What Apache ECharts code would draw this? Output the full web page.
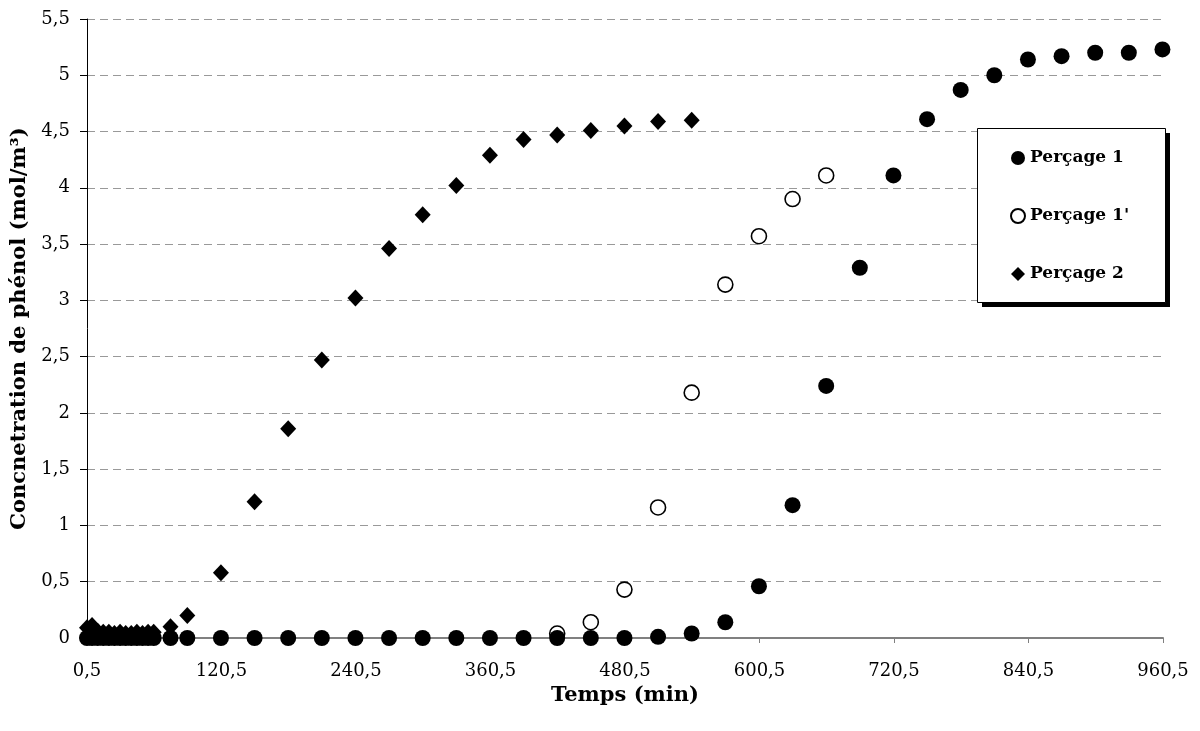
<!DOCTYPE html>
<html>
<head>
<meta charset="utf-8">
<script src="https://cdn.jsdelivr.net/npm/echarts@6/dist/echarts.min.js"></script>
<style>html,body{margin:0;padding:0;background:#fff}#c{width:1200px;height:731px}</style>
</head>
<body>
<div id="c"></div>
<script>
// Data (time in min, concentration in mol/m3)
const earlyTimes = [0.5, 5, 10, 15, 20, 25, 30, 35, 40, 45, 50, 55, 60, 75, 90];
const p1Times = earlyTimes.concat([120, 150, 180, 210, 240, 270, 300, 330, 360, 390, 420, 450, 480, 510, 540, 570, 600, 630, 660, 690, 720, 750, 780, 810, 840, 870, 900, 930, 960]);
const p1Values = [0,0,0,0,0,0,0,0,0,0,0,0,0,0,0,
  0,0,0,0,0,0,0,0,0,0,0,0,0,0.01,0.04,0.14,0.46,1.18,2.24,3.29,4.11,4.61,4.87,5.00,5.14,5.17,5.20,5.20,5.23];
const p1pTimes = [420, 450, 480, 510, 540, 570, 600, 630, 660];
const p1pValues = [0.04, 0.14, 0.43, 1.16, 2.18, 3.14, 3.57, 3.90, 4.11];
const p2Times = earlyTimes.concat([120, 150, 180, 210, 240, 270, 300, 330, 360, 390, 420, 450, 480, 510, 540]);
const p2Values = [0.09,0.11,0.06,0.05,0.05,0.04,0.05,0.04,0.04,0.05,0.04,0.05,0.05,0.10,0.20,
  0.58,1.21,1.86,2.47,3.02,3.46,3.76,4.02,4.29,4.43,4.47,4.51,4.55,4.59,4.60];
const seriesNames = ['Perçage 1', "Perçage 1'", 'Perçage 2'];
const xTitle = 'Temps (min)';
const yTitle = 'Concnetration de phénol (mol/m³)';

const pair = (t, v) => t.map((x, i) => [x, v[i]]);
const comma = v => String(Math.round(v * 10) / 10).replace('.', ',');
const FONT = 'DejaVu Serif';

const chart = echarts.init(document.getElementById('c'), null, {renderer: 'canvas'});
chart.setOption({
  animation: false,
  backgroundColor: '#fff',
  grid: {left: 87, right: 37, top: 19, bottom: 93},
  graphic: [
    {type: 'rect', z: 50, shape: {x: 982, y: 133, width: 188, height: 174}, style: {fill: '#000'}},
    {type: 'rect', z: 51, shape: {x: 977.5, y: 128.5, width: 188, height: 174}, style: {fill: '#fff', stroke: '#000', lineWidth: 1}}
  ],
  legend: {
    z: 60,
    orient: 'vertical',
    left: 1010, top: 147,
    padding: 0,
    itemGap: 36,
    itemWidth: 14, itemHeight: 14,
    textStyle: {fontFamily: FONT, fontWeight: 'bold', fontSize: 17, color: '#000', lineHeight: 22},
    data: seriesNames
  },
  xAxis: {
    type: 'value',
    min: 0.5, max: 960.5, interval: 120,
    name: xTitle, nameLocation: 'middle', nameGap: 41,
    nameTextStyle: {fontFamily: FONT, fontWeight: 'bold', fontSize: 21, color: '#000'},
    axisLine: {onZero: false, lineStyle: {color: '#808080', width: 2}},
    axisTick: {show: true, length: 5, lineStyle: {color: '#808080', width: 1}},
    axisLabel: {margin: 24, fontFamily: FONT, fontSize: 18, color: '#000', formatter: v => comma(v)},
    splitLine: {show: false}
  },
  yAxis: {
    type: 'value',
    min: 0, max: 5.5, interval: 0.5,
    name: yTitle, nameLocation: 'middle', nameGap: 52, nameRotate: 90,
    nameTextStyle: {fontFamily: FONT, fontWeight: 'bold', fontSize: 21, color: '#000'},
    axisLine: {show: true, lineStyle: {color: '#000', width: 1}},
    axisTick: {show: true, length: 7, lineStyle: {color: '#000', width: 1}},
    axisLabel: {margin: 17, fontFamily: FONT, fontSize: 18, color: '#000', formatter: v => comma(v)},
    splitLine: {show: true, lineStyle: {color: '#999', width: 1, type: [8, 5]}}
  },
  series: [
    {name: seriesNames[0], type: 'scatter', z: 3, symbol: 'circle', symbolSize: 16,
     itemStyle: {color: '#000', opacity: 1}, data: pair(p1Times, p1Values)},
    {name: seriesNames[1], type: 'scatter', z: 2, symbol: 'circle', symbolSize: 15,
     itemStyle: {color: '#fff', borderColor: '#000', borderWidth: 1.6, opacity: 1}, data: pair(p1pTimes, p1pValues)},
    {name: seriesNames[2], type: 'scatter', z: 4, symbol: 'diamond', symbolSize: [16, 17],
     itemStyle: {color: '#000', opacity: 1}, data: pair(p2Times, p2Values)}
  ]
});
</script>
</body>
</html>
